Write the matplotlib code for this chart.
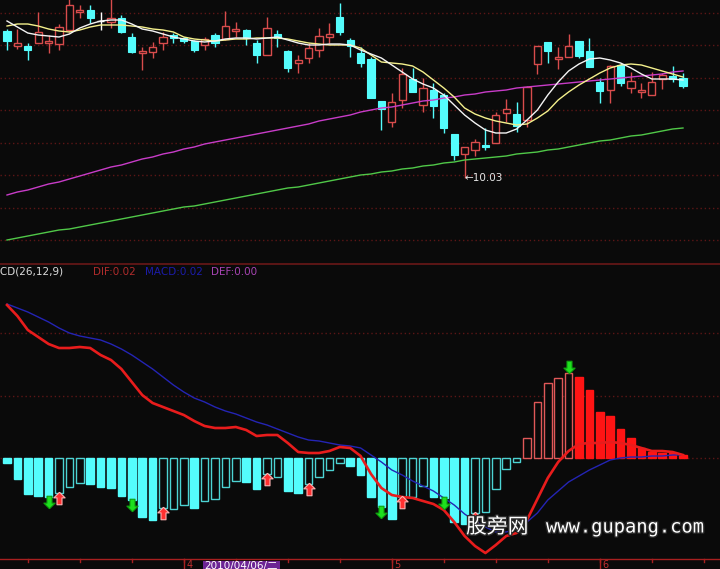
import numpy as np
import matplotlib.pyplot as plt
from matplotlib.path import Path
from matplotlib.patches import Rectangle
from matplotlib.transforms import blended_transform_factory
import matplotlib.patheffects as pe

plt.rcParams['font.family'] = ['DejaVu Sans', 'Noto Sans CJK SC']

# дневные свечи
opens = [12.97, 12.67, 12.67, 12.73, 12.73, 12.71, 12.99, 13.35, 13.39, 13.17,
         13.15, 13.23, 12.85, 12.53, 12.55, 12.73, 12.89, 12.83, 12.77, 12.69,
         12.89, 12.81, 12.97, 12.99, 12.73, 12.49, 12.91, 12.57, 12.33, 12.43,
         12.59, 12.85, 13.25, 12.79, 12.53, 12.41, 11.57, 11.15, 11.59, 12.01,
         11.49, 11.79, 11.69, 10.91, 10.51, 10.59, 10.69, 10.73, 11.33, 11.31,
         11.19, 12.31, 12.75, 12.41, 12.45, 12.77, 12.57, 11.95, 11.79, 12.29,
         11.83, 11.75, 11.69, 12.01, 12.07, 12.03]
closes = [12.77, 12.73, 12.59, 12.95, 12.77, 13.05, 13.49, 13.39, 13.23, 13.17,
          13.23, 12.95, 12.55, 12.57, 12.65, 12.85, 12.83, 12.77, 12.59, 12.81,
          12.73, 13.07, 13.01, 12.83, 12.49, 13.03, 12.83, 12.23, 12.39, 12.63,
          12.87, 12.91, 12.95, 12.67, 12.33, 11.63, 11.41, 11.55, 12.11, 11.75,
          11.83, 11.47, 11.03, 10.49, 10.65, 10.75, 10.65, 11.29, 11.41, 11.07,
          11.85, 12.67, 12.57, 12.45, 12.67, 12.47, 12.25, 11.77, 12.27, 11.93,
          11.97, 11.79, 11.95, 12.09, 12.01, 11.87]
highs = [13.01, 13.01, 12.73, 13.35, 12.89, 13.11, 13.63, 13.49, 13.49, 13.35,
         13.63, 13.29, 12.93, 12.65, 12.75, 12.95, 12.93, 12.85, 12.79, 12.85,
         12.93, 13.37, 13.15, 13.01, 12.79, 13.25, 12.99, 12.59, 12.49, 12.73,
         13.03, 13.13, 13.53, 12.83, 12.65, 12.45, 11.57, 11.73, 12.23, 12.23,
         12.03, 11.93, 11.73, 10.91, 10.65, 10.81, 11.03, 11.35, 11.61, 11.55,
         11.87, 12.67, 12.75, 12.65, 12.91, 12.77, 12.83, 12.03, 12.29, 12.33,
         12.15, 11.93, 12.15, 12.13, 12.27, 12.13]
lows = [12.59, 12.61, 12.39, 12.73, 12.53, 12.59, 12.95, 13.23, 13.13, 12.99,
        13.03, 12.93, 12.53, 12.19, 12.43, 12.59, 12.73, 12.73, 12.55, 12.59,
        12.65, 12.79, 12.85, 12.69, 12.33, 12.49, 12.65, 12.15, 12.13, 12.33,
        12.45, 12.73, 12.89, 12.45, 12.25, 11.63, 10.99, 11.05, 11.43, 11.75,
        11.35, 11.23, 10.93, 10.39, 10.03, 10.47, 10.59, 10.73, 11.15, 10.95,
        11.05, 12.11, 12.33, 12.21, 12.45, 12.43, 12.25, 11.53, 11.53, 11.87,
        11.73, 11.63, 11.69, 11.81, 11.95, 11.83]

# скользящие средние
ma5 = [13.17, 13.05, 12.93, 12.89, 12.87, 12.85, 12.91, 13.03, 13.11, 13.17,
       13.19, 13.19, 13.11, 13.01, 12.97, 12.91, 12.85, 12.81, 12.77, 12.75,
       12.77, 12.81, 12.83, 12.83, 12.81, 12.83, 12.85, 12.79, 12.73, 12.69,
       12.69, 12.71, 12.71, 12.69, 12.59, 12.51, 12.43, 12.29, 12.15, 12.01,
       11.91, 11.83, 11.69, 11.49, 11.29, 11.13, 10.99, 10.93, 10.93, 11.01,
       11.19, 11.39, 11.69, 11.95, 12.17, 12.31, 12.41, 12.43, 12.39, 12.33,
       12.23, 12.11, 12.01, 12.01, 12.01, 11.99]
ma10 = [13.07, 13.11, 13.11, 13.07, 13.01, 12.97, 12.95, 12.99, 13.05, 13.09,
        13.09, 13.09, 13.07, 13.05, 13.01, 12.99, 12.95, 12.85, 12.81, 12.79,
        12.77, 12.79, 12.81, 12.81, 12.83, 12.83, 12.83, 12.81, 12.77, 12.73,
        12.71, 12.69, 12.69, 12.69, 12.63, 12.49, 12.35, 12.33, 12.31, 12.27,
        12.15, 11.99, 11.83, 11.65, 11.43, 11.31, 11.23, 11.17, 11.13, 11.09,
        11.11, 11.23, 11.37, 11.59, 11.75, 11.89, 12.01, 12.13, 12.23, 12.29,
        12.31, 12.29, 12.23, 12.17, 12.11, 12.05]
ma60 = [9.69, 9.75, 9.79, 9.85, 9.91, 9.95, 10.01, 10.07, 10.13, 10.19,
        10.25, 10.29, 10.35, 10.41, 10.45, 10.51, 10.55, 10.61, 10.65, 10.71,
        10.75, 10.79, 10.83, 10.87, 10.91, 10.95, 10.99, 11.03, 11.07, 11.11,
        11.17, 11.21, 11.25, 11.29, 11.35, 11.39, 11.43, 11.45, 11.49, 11.53,
        11.57, 11.59, 11.63, 11.65, 11.69, 11.71, 11.75, 11.77, 11.79, 11.83,
        11.85, 11.87, 11.89, 11.91, 11.93, 11.95, 11.97, 11.99, 12.01, 12.03,
        12.05, 12.07, 12.09, 12.11, 12.15, 12.17]
ma120 = [8.79, 8.83, 8.87, 8.91, 8.95, 8.99, 9.01, 9.05, 9.09, 9.13,
         9.17, 9.21, 9.25, 9.29, 9.33, 9.37, 9.41, 9.45, 9.47, 9.51,
         9.55, 9.59, 9.63, 9.67, 9.71, 9.75, 9.79, 9.83, 9.85, 9.89,
         9.93, 9.97, 10.01, 10.05, 10.09, 10.11, 10.15, 10.17, 10.21, 10.23,
         10.27, 10.29, 10.33, 10.35, 10.39, 10.41, 10.43, 10.45, 10.47, 10.51,
         10.53, 10.55, 10.59, 10.61, 10.65, 10.69, 10.73, 10.77, 10.79, 10.83,
         10.87, 10.89, 10.93, 10.97, 11.01, 11.03]

# MACD
dif = [0.765, 0.71, 0.64, 0.605, 0.57, 0.55, 0.55, 0.555, 0.55, 0.515,
       0.49, 0.445, 0.38, 0.315, 0.275, 0.255, 0.235, 0.215, 0.185, 0.16,
       0.15, 0.15, 0.155, 0.14, 0.11, 0.115, 0.115, 0.075, 0.03, 0.025,
       0.025, 0.035, 0.055, 0.05, 0.01, -0.08, -0.15, -0.185, -0.195, -0.2,
       -0.215, -0.23, -0.26, -0.32, -0.39, -0.44, -0.475, -0.435, -0.39, -0.375,
       -0.31, -0.205, -0.10, -0.02, 0.035, 0.07, 0.075, 0.075, 0.08, 0.075,
       0.065, 0.05, 0.035, 0.035, 0.03, 0.015]
dea = [0.77, 0.75, 0.73, 0.705, 0.68, 0.65, 0.625, 0.61, 0.60, 0.59,
       0.57, 0.545, 0.515, 0.48, 0.445, 0.405, 0.365, 0.33, 0.30, 0.28,
       0.255, 0.235, 0.22, 0.20, 0.18, 0.165, 0.145, 0.125, 0.105, 0.09,
       0.085, 0.075, 0.065, 0.06, 0.05, 0.015, -0.02, -0.06, -0.085, -0.115,
       -0.14, -0.165, -0.20, -0.235, -0.28, -0.315, -0.345, -0.37, -0.37, -0.355,
       -0.32, -0.275, -0.21, -0.165, -0.12, -0.09, -0.06, -0.035, -0.01, 0.0,
       0.005, 0.005, 0.01, 0.01, 0.015, 0.015]
hist = [-0.025, -0.105, -0.18, -0.19, -0.195, -0.175, -0.145, -0.125, -0.13, -0.145,
        -0.15, -0.19, -0.21, -0.295, -0.31, -0.25, -0.255, -0.235, -0.25, -0.215,
        -0.205, -0.145, -0.115, -0.12, -0.155, -0.08, -0.095, -0.165, -0.175, -0.13,
        -0.095, -0.06, -0.025, -0.04, -0.085, -0.195, -0.245, -0.305, -0.195, -0.195,
        -0.14, -0.195, -0.2, -0.32, -0.33, -0.275, -0.27, -0.155, -0.055, -0.02,
        0.10, 0.28, 0.375, 0.40, 0.425, 0.405, 0.34, 0.23, 0.21, 0.145,
        0.10, 0.05, 0.03, 0.025, 0.025, 0.015]
hist_filled = [1, 1, 1, 1, 1, 0, 0, 0, 1, 1,
               1, 1, 1, 1, 1, 0, 0, 0, 1, 0,
               0, 0, 0, 1, 1, 0, 0, 1, 1, 0,
               0, 0, 0, 1, 1, 1, 1, 1, 0, 0,
               0, 1, 1, 1, 1, 0, 0, 0, 0, 0,
               0, 0, 0, 0, 0, 1, 1, 1, 1, 1,
               1, 1, 1, 1, 1, 1]
buy_idx = [5, 15, 25, 29, 38, 45]
sell_idx = [4, 12, 36, 42, 54]

month_idx = [17, 37, 57]
month_labels = ['4', '5', '6']
date_label = '2010/04/06/二'
low_idx = 44

BG = '#0a0a0a'
GRID = '#5c1616'
CYAN = '#54fcfc'
RED = '#d84c4c'

W, H = 720.0, 569.0
fig = plt.figure(figsize=(7.2, 5.69), dpi=100, facecolor=BG)
ax1 = fig.add_axes([0, (H - 264) / H, 1, 264 / H])
ax2 = fig.add_axes([0, (H - 559) / H, 1, (559 - 264) / H])

x = np.arange(len(opens))
xlim = (-7 / 10.4, -7 / 10.4 + W / 10.4)

for ax in (ax1, ax2):
    ax.set_facecolor(BG)
    ax.set_xlim(*xlim)
    for s in ax.spines.values():
        s.set_visible(False)
    ax.tick_params(left=False, bottom=False, labelleft=False, labelbottom=False)
    ax.grid(axis='y', color=GRID, linestyle=(0, (1, 2)), linewidth=1)
    ax.set_axisbelow(True)

# ---- свечи ----
ax1.set_ylim(13.59 - 0.02 * 264, 13.59)
ax1.set_yticks(np.arange(13.33, 8.5, -0.65))

o = np.array(opens)
c = np.array(closes)
up = c > o
down = c < o
doji = c == o
cols = np.where(up, RED, np.where(down, CYAN, '#ffffff'))
ax1.vlines(x, lows, highs, colors=cols, linewidth=1, zorder=2)
bw = 0.68
ax1.bar(x[up], (c - o)[up], bottom=o[up], width=bw, facecolor=BG,
        edgecolor=RED, linewidth=1, zorder=3)
ax1.bar(x[down], (o - c)[down], bottom=c[down], width=bw, facecolor=CYAN,
        edgecolor=CYAN, linewidth=0.8, zorder=3)
ax1.hlines(c[doji], x[doji] - bw / 2, x[doji] + bw / 2, colors='#ffffff',
           linewidth=1, zorder=3)

ax1.plot(x, ma120, color='#50c848', linewidth=1, zorder=4)
ax1.plot(x, ma60, color='#c83cc8', linewidth=1, zorder=4)
ax1.plot(x, ma10, color='#f4f08c', linewidth=1, zorder=5)
ax1.plot(x, ma5, color='#f4f4f4', linewidth=1, zorder=5)

ax1.text(low_idx - 0.05, lows[low_idx], '←' + f'{lows[low_idx]:.2f}',
         color='#e6e6e6', fontsize=7.5, ha='left', va='center', zorder=6)

# ---- MACD ----
ax2.set_ylim((458 - 559) * 0.005, (458 - 264) * 0.005)
ax2.set_yticks([0, 0.31, 0.625])

h = np.array(hist)
f = np.array(hist_filled) == 1
pos = h >= 0
face = np.where(pos, np.where(f, '#ff1414', BG), np.where(f, CYAN, BG))
edge = np.where(pos, np.where(f, '#ff1414', '#e05858'), np.where(f, CYAN, '#4cd4d4'))
ax2.bar(x, h, width=0.74, color=face, edgecolor=edge, linewidth=1, zorder=2)

ax2.plot(x, dea, color='#2424b4', linewidth=1, zorder=3)
ax2.plot(x, dif, color='#e81c1c', linewidth=1.9, zorder=4)

up_arrow = Path([(0, 1), (-0.9, 0.1), (-0.4, 0.1), (-0.4, -1), (0.4, -1),
                 (0.4, 0.1), (0.9, 0.1), (0, 1)])
down_arrow = Path([(0, -1), (-0.9, -0.1), (-0.4, -0.1), (-0.4, 1), (0.4, 1),
                   (0.4, -0.1), (0.9, -0.1), (0, -1)])
for i in buy_idx:
    yy = h[i] - 0.025 if h[i] < 0 else h[i] + 0.025
    ax2.plot(i, yy, marker=up_arrow, markersize=9, markerfacecolor='#ff3030',
             markeredgecolor='#ffb4b4', markeredgewidth=0.8, zorder=6)
for i in sell_idx:
    yy = h[i] - 0.025 if h[i] < 0 else h[i] + 0.03
    ax2.plot(i, yy, marker=down_arrow, markersize=9, markerfacecolor='#1ee01e',
             markeredgecolor='#0fa00f', markeredgewidth=0.8, zorder=6)

# разделители и нижняя ось
fig.add_artist(plt.Line2D([0, 1], [(H - 264) / H] * 2, color='#6a1818', linewidth=1.2))
fig.add_artist(plt.Line2D([0, 1], [(H - 559) / H] * 2, color='#a82020', linewidth=1))
trans = blended_transform_factory(ax2.transData, fig.transFigure)
for i in range(2, 68, 5):
    ax2.plot([i, i], [(H - 559) / H, (H - 562) / H], color='#a82020',
             linewidth=1, transform=trans, clip_on=False)
for i, lab in zip(month_idx, month_labels):
    ax2.plot([i, i], [(H - 559) / H, 0], color='#a82020', linewidth=1,
             transform=trans, clip_on=False)
    ax2.text(i + 0.25, (H - 565) / H, lab, color='#c03030', fontsize=7,
             ha='left', va='center', transform=trans, clip_on=False)

fig.add_artist(Rectangle((203 / W, 0), 77 / W, 8 / H, transform=fig.transFigure,
                         facecolor='#6c2494', edgecolor='none'))
fig.text(204 / W, (H - 561) / H, date_label, color='#ffffff', fontsize=7.5,
         ha='left', va='top')

# подписи MACD
ty = (H - 272) / H
fig.text(-16 / W, ty, 'MACD(26,12,9)', color='#dcdcdc', fontsize=7.5, va='center')
fig.text(93 / W, ty, 'DIF:0.02', color='#b02c2c', fontsize=7.5, va='center')
fig.text(145 / W, ty, 'MACD:0.02', color='#1c1caa', fontsize=7.5, va='center')
fig.text(211 / W, ty, 'DEF:0.00', color='#a844b4', fontsize=7.5, va='center')

# водяной знак
shadow = [pe.withStroke(linewidth=2, foreground='#2a2a2a')]
fig.text(466 / W, (H - 527) / H, '股旁网', color='#ffffff', fontsize=15,
         family=['Noto Sans CJK SC'], va='center', path_effects=shadow)
fig.text(546 / W, (H - 527) / H, 'www.gupang.com', color='#ffffff', fontsize=13.5,
         family=['DejaVu Sans Mono'], va='center', path_effects=shadow)

fig.savefig('out.png', dpi=100, facecolor=BG)
